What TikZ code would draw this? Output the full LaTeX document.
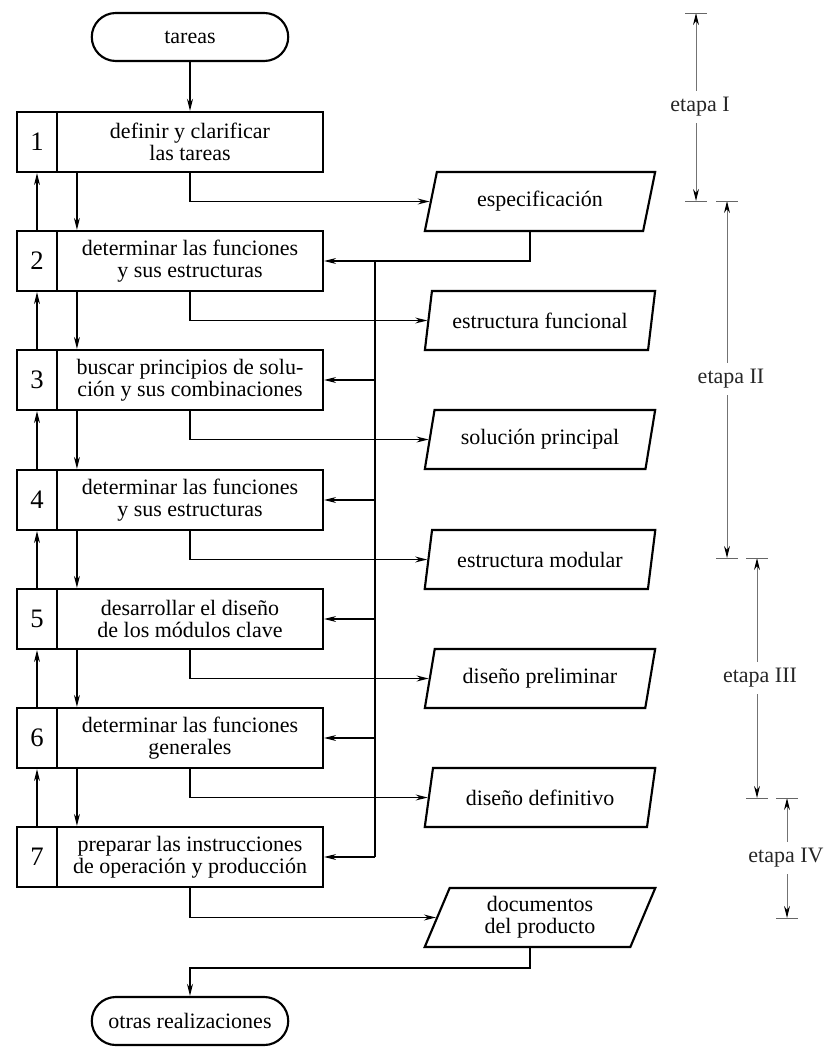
\documentclass[tikz,border=0pt]{standalone}
\usepackage{fontspec}
\setmainfont{Liberation Serif}
\usetikzlibrary{arrows.meta,positioning,calc,shapes.geometric,shapes.misc}

\begin{document}
\begin{tikzpicture}[x=0.75pt,y=-0.75pt,>={Stealth[length=9pt,width=4.4pt]},
  txt/.style={font=\fontsize{16.5}{16.5}\selectfont},
  task/.style={txt,draw,line width=1.6pt,minimum width=199.5pt,minimum height=45pt,inner sep=0pt,align=center},
  num/.style={draw,line width=1.6pt,minimum width=30pt,minimum height=45pt,inner sep=0pt,font=\fontsize{20}{20}\selectfont},
  doc/.style={txt,draw,line width=1.6pt,trapezium,trapezium left angle=70,trapezium right angle=110,trapezium stretches=true,minimum width=173pt,minimum height=44.25pt,inner sep=0pt,align=center},
  term/.style={txt,draw,line width=1.6pt,rounded rectangle,minimum width=154pt,minimum height=36pt},
  outl/.style={line width=1.3pt},
  link/.style={line width=0.9pt},
  fb/.style={line width=0.8pt},
  dim/.style={line width=0.7pt,black!55,-{Stealth[length=9pt,width=4.4pt,color=black]}},
  tk/.style={line width=0.7pt,black!60},
  lab/.style={txt,text=black!85,minimum height=24pt,inner sep=1pt}]
\useasboundingbox (0,0) rectangle (826,1048);
% main chain
\node[term] (start) at (190,37) {tareas};
\node[num] (n1) at (37,142) {1}; \node[task] (t1) at (190,142) {definir y clarificar\\las tareas};
\node[num] (n2) at (37,261) {2}; \node[task] (t2) at (190,261) {determinar las funciones\\y sus estructuras};
\node[num] (n3) at (37,380) {3}; \node[task] (t3) at (190,380) {buscar principios de solu-\\ción y sus combinaciones};
\node[num] (n4) at (37,500) {4}; \node[task] (t4) at (190,500) {determinar las funciones\\y sus estructuras};
\node[num] (n5) at (37,619) {5}; \node[task] (t5) at (190,619) {desarrollar el diseño\\de los módulos clave};
\node[num] (n6) at (37,738) {6}; \node[task] (t6) at (190,738) {determinar las funciones\\generales};
\node[num] (n7) at (37,857) {7}; \node[task] (t7) at (190,857) {preparar las instrucciones\\de operación y producción};
% results
\node[doc] (p1) at (540,201.5) {especificación};
\node[doc] (p2) at (540,320.5) {estructura funcional};
\node[doc] (p3) at (540,439.5) {solución principal};
\node[doc] (p4) at (540,559.5) {estructura modular};
\node[doc] (p5) at (540,678.5) {diseño preliminar};
\node[doc] (p6) at (540,797.5) {diseño definitivo};
\node[doc] (p7) at (540,917.5) {documentos\\del producto};
\node[term] (end) at (190,1021) {otras realizaciones};
\draw[outl,->] (start) -- (t1);
\draw[outl,->] (t1.south) |- (p1.left side); \draw[outl,->] (t2.south) |- (p2.left side);
\draw[outl,->] (t3.south) |- (p3.left side); \draw[outl,->] (t4.south) |- (p4.left side);
\draw[outl,->] (t5.south) |- (p5.left side); \draw[outl,->] (t6.south) |- (p6.left side);
\draw[outl,->] (t7.south) |- (p7.left side);
\draw[outl,->] ([xshift=-7.5pt]p7.south) -- ++(0,20) -| (end.north);
% forward / back between steps
\draw[link,->] ([xshift=15.75pt]t1.south west) -- ([xshift=15.75pt]t2.north west); \draw[link,->] (n2) -- (n1);
\draw[link,->] ([xshift=15.75pt]t2.south west) -- ([xshift=15.75pt]t3.north west); \draw[link,->] (n3) -- (n2);
\draw[link,->] ([xshift=15.75pt]t3.south west) -- ([xshift=15.75pt]t4.north west); \draw[link,->] (n4) -- (n3);
\draw[link,->] ([xshift=15.75pt]t4.south west) -- ([xshift=15.75pt]t5.north west); \draw[link,->] (n5) -- (n4);
\draw[link,->] ([xshift=15.75pt]t5.south west) -- ([xshift=15.75pt]t6.north west); \draw[link,->] (n6) -- (n5);
\draw[link,->] ([xshift=15.75pt]t6.south west) -- ([xshift=15.75pt]t7.north west); \draw[link,->] (n7) -- (n6);
% specification fed back
\coordinate (bus) at (375,0);
\draw[fb,->] ([xshift=-7.5pt]p1.south) |- (t2.east);
\draw[fb] (bus |- t2.east) -- (bus |- t7.east);
\draw[fb,->] (bus |- t3.east) -- (t3.east); \draw[fb,->] (bus |- t4.east) -- (t4.east);
\draw[fb,->] (bus |- t5.east) -- (t5.east); \draw[fb,->] (bus |- t6.east) -- (t6.east);
\draw[fb,->] (bus |- t7.east) -- (t7.east);
% stages
\coordinate (a0) at (696,13); \coordinate (a1) at (696,201); \node[lab] (s1) at (700,107) {etapa I};
\coordinate (b0) at (727,201); \coordinate (b1) at (727,558); \node[lab] (s2) at (731,379) {etapa II};
\coordinate (c0) at (757,558); \coordinate (c1) at (757,798); \node[lab] (s3) at (760,678) {etapa III};
\coordinate (d0) at (787,798); \coordinate (d1) at (787,918); \node[lab] (s4) at (786,858) {etapa IV};
\draw[dim] (a0 |- s1.north) -- (a0); \draw[dim] (a1 |- s1.south) -- (a1);
\draw[dim] (b0 |- s2.north) -- (b0); \draw[dim] (b1 |- s2.south) -- (b1);
\draw[dim] (c0 |- s3.north) -- (c0); \draw[dim] (c1 |- s3.south) -- (c1);
\draw[dim] (d0 |- s4.north) -- (d0); \draw[dim] (d1 |- s4.south) -- (d1);
\draw[tk] ([xshift=-8pt]a0) -- ([xshift=8pt]a0); \draw[tk] ([xshift=-8pt]a1) -- ([xshift=8pt]a1);
\draw[tk] ([xshift=-8pt]b0) -- ([xshift=8pt]b0); \draw[tk] ([xshift=-8pt]b1) -- ([xshift=8pt]b1);
\draw[tk] ([xshift=-8pt]c0) -- ([xshift=8pt]c0); \draw[tk] ([xshift=-8pt]c1) -- ([xshift=8pt]c1);
\draw[tk] ([xshift=-8pt]d0) -- ([xshift=8pt]d0); \draw[tk] ([xshift=-8pt]d1) -- ([xshift=8pt]d1);
\end{tikzpicture}
\end{document}
